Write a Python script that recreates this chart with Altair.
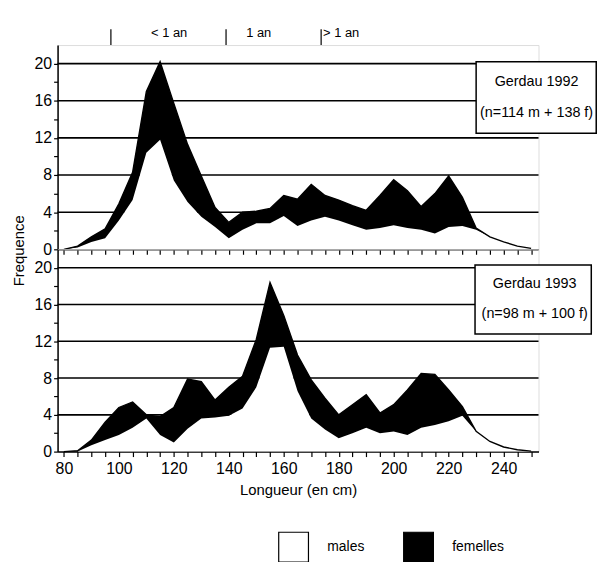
import altair as alt
import pandas as pd

# ---------------- data ----------------
lengths = list(range(80, 251, 5))  # length classes (cm)

males_1992 = [0, 0.2, 0.8, 1.2, 3.1, 5.3, 10.4, 11.8, 7.4, 5.1, 3.5, 2.4, 1.2, 2.1,
              2.8, 2.8, 3.6, 2.5, 3.1, 3.5, 3.1, 2.6, 2.1, 2.3, 2.6, 2.3, 2.1, 1.7,
              2.4, 2.5, 2.1, 1.35, 0.8, 0.35, 0.1]
females_1992 = [0, 0.15, 0.55, 1.0, 1.8, 3.0, 6.6, 8.4, 8.3, 6.2, 4.4, 2.1, 1.7, 1.9,
                1.3, 1.6, 2.2, 2.9, 3.9, 2.3, 2.2, 2.1, 2.1, 3.5, 4.9, 4.0, 2.5, 4.3,
                5.5, 3.1, 0.2, 0, 0, 0, 0]

males_1993 = [0, 0, 0.7, 1.25, 1.8, 2.6, 3.6, 1.8, 1.0, 2.5, 3.6, 3.7, 3.9, 4.7,
              7.0, 11.3, 11.4, 6.6, 3.6, 2.4, 1.45, 2.0, 2.6, 2.0, 2.2, 1.8, 2.6, 2.9,
              3.3, 3.9, 2.2, 1.1, 0.5, 0.2, 0.05]
females_1993 = [0, 0.1, 0.55, 1.95, 3.0, 2.8, 0.4, 2.0, 3.8, 5.4, 4.0, 1.9, 3.1, 3.5,
                5.2, 7.1, 3.4, 3.9, 4.2, 3.4, 2.55, 3.1, 3.6, 2.2, 2.9, 4.9, 5.9, 5.5,
                3.4, 1.0, 0, 0, 0, 0, 0]

sex_labels = ["males", "femelles"]
panel_names = ["Gerdau 1992", "Gerdau 1993"]
panel_counts = ["(n=114 m + 138 f)", "(n=98 m + 100 f)"]

age_labels = ["< 1 an", "1 an", "> 1 an"]
age_label_pos = [118.3, 150.9, 180.9]   # cm
age_bounds = [97.1, 139.0, 173.6]       # cm

x_tick_values = list(range(80, 251, 5))
y_tick_values = list(range(0, 21, 2))
grid_values = [4, 8, 12, 16, 20]

# ---------------- styling ----------------
FONT = "Liberation Sans, Arial, sans-serif"

x_scale = alt.Scale(domain=[77.7, 252.7], nice=False, zero=False)
y_scale = alt.Scale(domain=[0, 22], nice=False)
color_scale = alt.Scale(domain=sex_labels, range=["white", "black"])


def long_df(males, females):
    rows = []
    for L, m, f in zip(lengths, males, females):
        rows.append({"len": L, "sex": sex_labels[0], "lo": 0.0, "hi": m})
        rows.append({"len": L, "sex": sex_labels[1], "lo": m, "hi": m + f})
    return pd.DataFrame(rows)


def make_panel(males, females, name, count, height, bottom, box):
    common = dict(tickColor="black", tickWidth=1.2, domainColor="black", domainWidth=1.5,
                  labelColor="black", labelFont=FONT, labelFontSize=16, grid=False)
    if bottom:
        x_axis = alt.Axis(values=x_tick_values,
                          labelExpr="datum.value % 20 == 0 ? datum.label : ''",
                          title="Longueur (en cm)", titleFont=FONT, titleFontSize=15,
                          titleFontWeight="normal", titleColor="black", titlePadding=6,
                          labelPadding=4, tickSize=5, labelFlush=False, **common)
        y_axis = alt.Axis(values=y_tick_values,
                          labelExpr="datum.value % 4 == 0 ? datum.label : ''",
                          title=None, tickSize=4, labelPadding=2, **common)
    else:
        x_axis = alt.Axis(values=x_tick_values, labels=False, title=None, tickSize=5,
                          **common)
        y_axis = alt.Axis(values=y_tick_values,
                          labelExpr="datum.value % 4 == 0 ? datum.label : ''",
                          title="Frequence", titleFont=FONT, titleFontSize=15,
                          titleFontWeight="normal", titleColor="black",
                          titleX=-31, titleY=207,
                          tickSize=4, labelPadding=2, **common)

    df = long_df(males, females)
    tot = pd.DataFrame({"len": lengths,
                        "total": [m + f for m, f in zip(males, females)]})

    grid = alt.Chart(pd.DataFrame({"g": grid_values})).mark_rule(
        color="black", strokeWidth=1.6
    ).encode(y=alt.Y("g:Q", scale=y_scale, axis=y_axis))

    areas = alt.Chart(df).mark_area(interpolate="linear", strokeWidth=0).encode(
        x=alt.X("len:Q", scale=x_scale, axis=x_axis),
        y=alt.Y("hi:Q", scale=y_scale, axis=y_axis),
        y2="lo:Q",
        color=alt.Color("sex:N", scale=color_scale,
                        legend=alt.Legend(orient="none", legendX=222, legendY=490,
                                          direction="horizontal", title=None,
                                          symbolType="square", symbolSize=900,
                                          symbolStrokeColor="black",
                                          symbolStrokeWidth=1.2,
                                          labelFont=FONT, labelFontSize=14,
                                          labelColor="black",
                                          labelOffset=18, columnPadding=36)),
    )

    line = alt.Chart(tot).mark_line(color="black", strokeWidth=1.4).encode(
        x=alt.X("len:Q", scale=x_scale, axis=x_axis),
        y=alt.Y("total:Q", scale=y_scale, axis=y_axis),
    )

    bx = pd.DataFrame({"x": [box[0]], "x2": [box[1]], "y": [box[2]], "y2": [box[3]]})
    rect = alt.Chart(bx).mark_rect(fill="white", stroke="black", strokeWidth=1.5).encode(
        x=alt.X("x:Q", scale=x_scale, axis=x_axis), x2="x2:Q",
        y=alt.Y("y:Q", scale=y_scale, axis=y_axis), y2="y2:Q",
    )
    tx = pd.DataFrame({"x": [box[4], box[4]], "y": [box[5], box[6]], "t": [name, count]})
    texts = alt.Chart(tx).mark_text(font=FONT, fontSize=14.5, color="black").encode(
        x=alt.X("x:Q", scale=x_scale, axis=x_axis),
        y=alt.Y("y:Q", scale=y_scale, axis=y_axis),
        text="t:N",
    )

    layers = [grid, areas, line, rect, texts]

    if not bottom:
        br = pd.DataFrame({"x": age_bounds, "y": [22] * 3, "y2": [23.7] * 3})
        brackets = alt.Chart(br).mark_rule(color="black", strokeWidth=1.2).encode(
            x=alt.X("x:Q", scale=x_scale, axis=x_axis),
            y=alt.Y("y:Q", scale=y_scale, axis=y_axis), y2="y2:Q",
        )
        al = pd.DataFrame({"x": age_label_pos, "y": [23.25] * 3, "t": age_labels})
        age_text = alt.Chart(al).mark_text(font=FONT, fontSize=13, color="black").encode(
            x=alt.X("x:Q", scale=x_scale, axis=x_axis),
            y=alt.Y("y:Q", scale=y_scale, axis=y_axis),
            text="t:N",
        )
        layers += [brackets, age_text]

    return alt.layer(*layers).properties(width=485, height=height)


top = make_panel(males_1992, females_1992, panel_names[0], panel_counts[0], 206, False,
                 (230.0, 273.7, 20.2, 12.5, 252.0, 18.0, 14.7))
bottom = make_panel(males_1993, females_1993, panel_names[1], panel_counts[1], 204, True,
                    (229.6, 271.9, 20.3, 12.8, 251.3, 18.2, 15.0))

chart = alt.vconcat(top, bottom, spacing=0, bounds="flush").properties(
    padding={"left": 3, "top": 16, "right": 2, "bottom": 0}
).configure_view(
    stroke="black", strokeWidth=1.5
).configure(background="white")

chart.save("out.html", embed_options={"renderer": "svg", "actions": False})
